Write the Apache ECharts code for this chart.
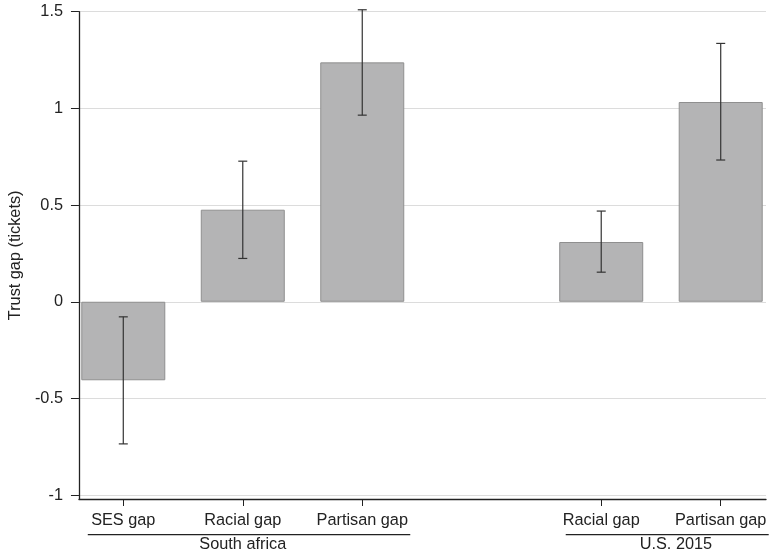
<!DOCTYPE html>
<html><head><meta charset="utf-8">
<script src="https://cdn.jsdelivr.net/npm/echarts@6/dist/echarts.min.js"></script>
<style>html,body{margin:0;padding:0;background:#fff}#c{width:771px;height:560px}</style>
</head><body><div id="c"></div>
<script>
const categories = ['SES gap', 'Racial gap', 'Partisan gap', 'Racial gap', 'Partisan gap'];
const positions = [1, 2, 3, 5, 6];
const values = [-0.406, 0.476, 1.238, 0.309, 1.033];
const ciLow = [-0.735, 0.224, 0.965, 0.153, 0.733];
const ciHigh = [-0.078, 0.727, 1.51, 0.469, 1.336];
const groups = ['South africa', 'U.S. 2015'];
const groupPositions = [2, 5.625];
const yTicks = [-1, -0.5, 0, 0.5, 1, 1.5];

const FONT = 'Liberation Sans';
const chart = echarts.init(document.getElementById('c'), null, {renderer: 'canvas'});
const xMin = 0.629, xMax = 6.379;
const option = {
  animation: false,
  textStyle: {fontFamily: FONT},
  grid: {left: 76, right: 5, top: 11.7, bottom: 61},
  xAxis: [{
    type: 'value', min: xMin, max: xMax, position: 'bottom',
    splitLine: {show: false},
    axisLine: {show: true, onZero: false, lineStyle: {color: '#222', width: 1.3}},
    axisTick: {show: true, length: 7, customValues: positions, lineStyle: {color: '#222'}},
    axisLabel: {customValues: positions, margin: 14, fontSize: 16.3, color: '#222', fontFamily: FONT,
      formatter: v => { const i = positions.indexOf(v); return i >= 0 ? categories[i] : ''; }}
  }, {
    type: 'value', min: xMin, max: xMax, position: 'bottom', offset: 24,
    splitLine: {show: false}, axisLine: {show: false, onZero: false}, axisTick: {show: false},
    axisLabel: {customValues: groupPositions, margin: 14, fontSize: 16.3, color: '#222', fontFamily: FONT,
      formatter: v => { const i = groupPositions.indexOf(v); return i >= 0 ? groups[i] : ''; }}
  }],
  yAxis: {
    type: 'value', min: -1.02, max: 1.5, splitNumber: 5,
    name: 'Trust gap (tickets)', nameLocation: 'middle', nameGap: 53,
    nameTextStyle: {fontSize: 16.3, color: '#222', fontFamily: FONT},
    axisLine: {show: true, onZero: false, lineStyle: {color: '#222', width: 1.3}},
    axisTick: {show: true, length: 8, customValues: yTicks, lineStyle: {color: '#222'}},
    axisLabel: {customValues: yTicks, margin: 16, fontSize: 16.3, color: '#222', fontFamily: FONT,
      formatter: v => String(v)},
    splitLine: {show: true, lineStyle: {color: '#dcdcdc', width: 1.2}}
  },
  series: [{
    type: 'bar', barWidth: 84,
    data: positions.map((p, i) => [p, values[i]]),
    itemStyle: {color: '#b4b4b5', borderColor: '#8f8f8f', borderWidth: 1}
  }, {
    type: 'custom',
    data: positions.map((p, i) => [p, ciLow[i], ciHigh[i]]),
    renderItem: (params, api) => {
      const lo = api.coord([api.value(0), api.value(1)]);
      const hi = api.coord([api.value(0), api.value(2)]);
      const hw = 4.5;
      const style = {stroke: '#333', lineWidth: 1.2};
      return {type: 'group', children: [
        {type: 'line', shape: {x1: lo[0], y1: lo[1], x2: hi[0], y2: hi[1]}, style},
        {type: 'line', shape: {x1: lo[0]-hw, y1: lo[1], x2: lo[0]+hw, y2: lo[1]}, style},
        {type: 'line', shape: {x1: hi[0]-hw, y1: hi[1], x2: hi[0]+hw, y2: hi[1]}, style}
      ]};
    },
    z: 5
  }]
};
chart.setOption(option);
// underline bracket under each group of labels
const yLine = 534.7;
const spans = [[1, 3], [5, 6]];
const lines = spans.map(s => {
  const a = chart.convertToPixel({xAxisIndex: 0}, s[0]) - 35.5;
  const b = chart.convertToPixel({xAxisIndex: 0}, s[1]) + 48;
  return {type: 'line', shape: {x1: a, y1: yLine, x2: b, y2: yLine}, style: {stroke: '#222', lineWidth: 1.3}};
});
chart.setOption({graphic: lines});
</script></body></html>
